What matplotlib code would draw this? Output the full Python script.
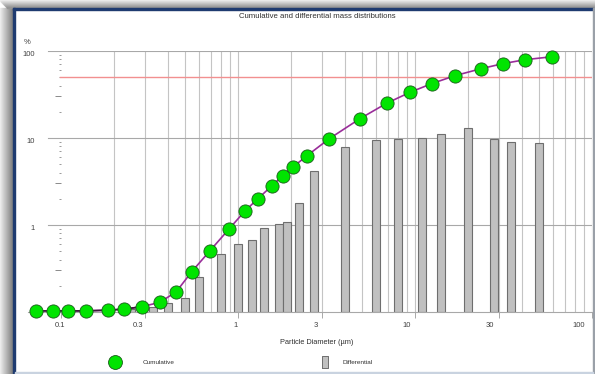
import matplotlib
matplotlib.use("Agg")
import matplotlib.pyplot as plt
import matplotlib.transforms as mtransforms
from matplotlib.lines import Line2D
from matplotlib.patches import Rectangle
from matplotlib.ticker import FixedLocator, NullFormatter

plt.rcParams['font.family'] = ['Liberation Sans', 'DejaVu Sans']

# cumulative distribution (diameter in um, %)
cum_d = [0.072, 0.090, 0.110, 0.138, 0.184, 0.228, 0.286, 0.361, 0.447, 0.548,
         0.695, 0.893, 1.095, 1.29, 1.55, 1.79, 2.045, 2.44, 3.28, 4.89,
         6.92, 9.37, 12.4, 16.8, 23.6, 31.3, 41.8, 59.7]
cum_v = [0.103, 0.103, 0.103, 0.103, 0.105, 0.108, 0.115, 0.129, 0.170, 0.291,
         0.507, 0.907, 1.45, 1.99, 2.81, 3.69, 4.64, 6.21, 9.82, 16.7,
         25.1, 33.5, 42.1, 52.0, 62.6, 71.5, 79.4, 86.0]

# differential distribution
diff_d = [0.25, 0.33, 0.40, 0.50, 0.60, 0.80, 1.0, 1.2, 1.4, 1.7, 1.9,
          2.2, 2.7, 4.0, 6.0, 8.0, 11.0, 14.0, 20.0, 28.0, 35.0, 50.0]
diff_v = [0.108, 0.113, 0.126, 0.146, 0.255, 0.464, 0.600, 0.678, 0.931, 1.027, 1.097,
          1.81, 4.14, 7.94, 9.41, 9.82, 10.08, 11.11, 12.93, 9.74, 8.93, 8.69]

x_ticks = [0.1, 0.3, 1, 3, 10, 30, 100]
x_labels = ['0.1', '0.3', '1', '3', '10', '30', '100']
y_ticks = [0.1, 1, 10, 100]
y_labels = ['0', '1', '10', '100']

W, H = 595, 374
fig = plt.figure(figsize=(W / 100, H / 100), dpi=100)
fig.patch.set_facecolor('white')

# window shadow + border
for i in range(13):
    g = 0.93 - 0.035 * i
    fig.patches.append(Rectangle((i / W, 0), 1 / W, 1 - 8 / H, transform=fig.transFigure,
                                 color=(g, g, g), zorder=0))
for i in range(8):
    g = 0.93 - 0.05 * i
    fig.patches.append(Rectangle((i / W, 1 - (i + 1) / H), 1, 1 / H, transform=fig.transFigure,
                                 color=(g, g, g), zorder=0))
fig.patches.append(Rectangle((13 / W, 0), 2 / W, 1 - 8 / H, transform=fig.transFigure,
                             color='#1f3b70', zorder=1))
fig.patches.append(Rectangle((13 / W, 1 - 10 / H), 580 / W, 2 / H, transform=fig.transFigure,
                             color='#1f3b70', zorder=1))
fig.patches.append(Rectangle((593 / W, 0), 2 / W, 1 - 8 / H, transform=fig.transFigure,
                             color='#9aa0a8', zorder=1))
fig.patches.append(Rectangle((15 / W, 0), 578 / W, 2 / H, transform=fig.transFigure,
                             color='#c9d3e0', zorder=1))

L, R, T, B = 28, 592, 51, 312
ax = fig.add_axes([L / W, 1 - B / H, (R - L) / W, (B - T) / H])
ax.set_xscale('log')
ax.set_yscale('log')
ax.set_xlim(0.0651, 100)
ax.set_ylim(0.1, 100)
ax.patch.set_alpha(0)

for s in ['top', 'left', 'right']:
    ax.spines[s].set_visible(False)
ax.spines['bottom'].set_color('#a8a8a8')
ax.spines['bottom'].set_linewidth(0.8)

# grid
grid_x = [s * 10 ** e for e in (-1, 0, 1) for s in range(2, 11)]
ax.vlines(grid_x, 0.1, 100, color='#c4c4c4', lw=0.8, zorder=0)
for yv in (1, 10, 100):
    ax.axhline(yv, xmin=(48 - L) / (R - L), color='#a8a8a8', lw=0.8, zorder=0)
ax.axhline(50, xmin=(60 - L) / (R - L), color='#f29090', lw=1.0, zorder=1)

# bars (constant width on the log axis)
f = 10 ** 0.0226
lefts = [d / f for d in diff_d]
widths = [d * f - d / f for d in diff_d]
heights = [v - 0.1 for v in diff_v]
ax.bar(lefts, heights, width=widths, bottom=0.1, align='edge',
       color='#c0c0c0', edgecolor='#6e6e6e', linewidth=0.8, zorder=2)

# cumulative curve
ax.plot(cum_d, cum_v, color='#992d99', lw=1.2, zorder=3)
ax.plot(cum_d[:7], cum_v[:7], color='#3a1a3a', lw=1.2, zorder=3)
ax.plot(cum_d, cum_v, ls='none', marker='o', ms=9.5, mfc='#00e400', mec='#1a5a1a',
        mew=0.6, zorder=4, clip_on=False)

# x ticks
ax.xaxis.set_major_locator(FixedLocator(x_ticks))
ax.set_xticklabels(x_labels)
ax.xaxis.set_minor_locator(FixedLocator([]))
ax.tick_params(axis='x', which='major', length=4, width=0.7, color='#a8a8a8',
               labelsize=5.5, labelcolor='#404040', pad=3)
shifts = [-1, -7, -2, -7, -8, -10, -13]
for lab, dx in zip(ax.get_xticklabels(), shifts):
    lab.set_transform(lab.get_transform() +
                      mtransforms.ScaledTranslation(dx / 100, 0, fig.dpi_scale_trans))

# y labels on the main axis
ax.yaxis.set_major_locator(FixedLocator(y_ticks))
ax.set_yticklabels(y_labels)
ax.yaxis.set_minor_locator(FixedLocator([]))
ax.yaxis.set_minor_formatter(NullFormatter())
ax.tick_params(axis='y', which='major', length=0, labelsize=5.5, labelcolor='#404040', pad=-5)
for lab in ax.get_yticklabels():
    lab.set_verticalalignment('top')

# small tick marks inside the plot
sec = ax.secondary_yaxis((61 - L) / (R - L))
sec.spines['left'].set_visible(False)
sec.spines['right'].set_visible(False)
sec.yaxis.set_ticks_position('left')
sec.yaxis.set_major_locator(FixedLocator([0.3, 3, 30]))
sec.yaxis.set_minor_locator(FixedLocator([s * 10 ** e for e in (-1, 0, 1)
                                          for s in (2, 4, 5, 6, 7, 8, 9)]))
sec.yaxis.set_major_formatter(NullFormatter())
sec.yaxis.set_minor_formatter(NullFormatter())
sec.tick_params(which='major', length=4.5, width=0.7, color='#8a8a8a')
sec.tick_params(which='minor', length=1.5, width=0.7, color='#9a9a9a')

# texts
fig.text(317 / W, 1 - 17 / H, 'Cumulative and differential mass distributions',
         ha='center', va='center', fontsize=5.6, color='#303030')
fig.text(27 / W, 1 - 43 / H, '%', ha='center', va='center', fontsize=5.5, color='#404040')
fig.text(317 / W, 1 - 342 / H, 'Particle Diameter (µm)', ha='center', va='center',
         fontsize=5.3, color='#303030')

# legend
h_cum = Line2D([], [], ls='none', marker='o', ms=10, mfc='#00e400', mec='#1a5a1a', mew=0.6)
rect = [(-0.5, -1), (0.5, -1), (0.5, 1), (-0.5, 1), (-0.5, -1)]
h_diff = Line2D([], [], ls='none', marker=rect, ms=9, mfc='#c0c0c0', mec='#6e6e6e', mew=0.7)
fig.legend([h_cum], ['Cumulative'], loc='center left', bbox_to_anchor=(112 / W, 1 - 362 / H),
           frameon=False, fontsize=4.6, handlelength=1.0, handletextpad=3.85,
           labelcolor='#303030', borderpad=0, borderaxespad=0)
fig.legend([h_diff], ['Differential'], loc='center left', bbox_to_anchor=(322 / W, 1 - 362 / H),
           frameon=False, fontsize=4.6, handlelength=1.0, handletextpad=2.2,
           labelcolor='#303030', borderpad=0, borderaxespad=0)

fig.savefig('out.png', dpi=100)
